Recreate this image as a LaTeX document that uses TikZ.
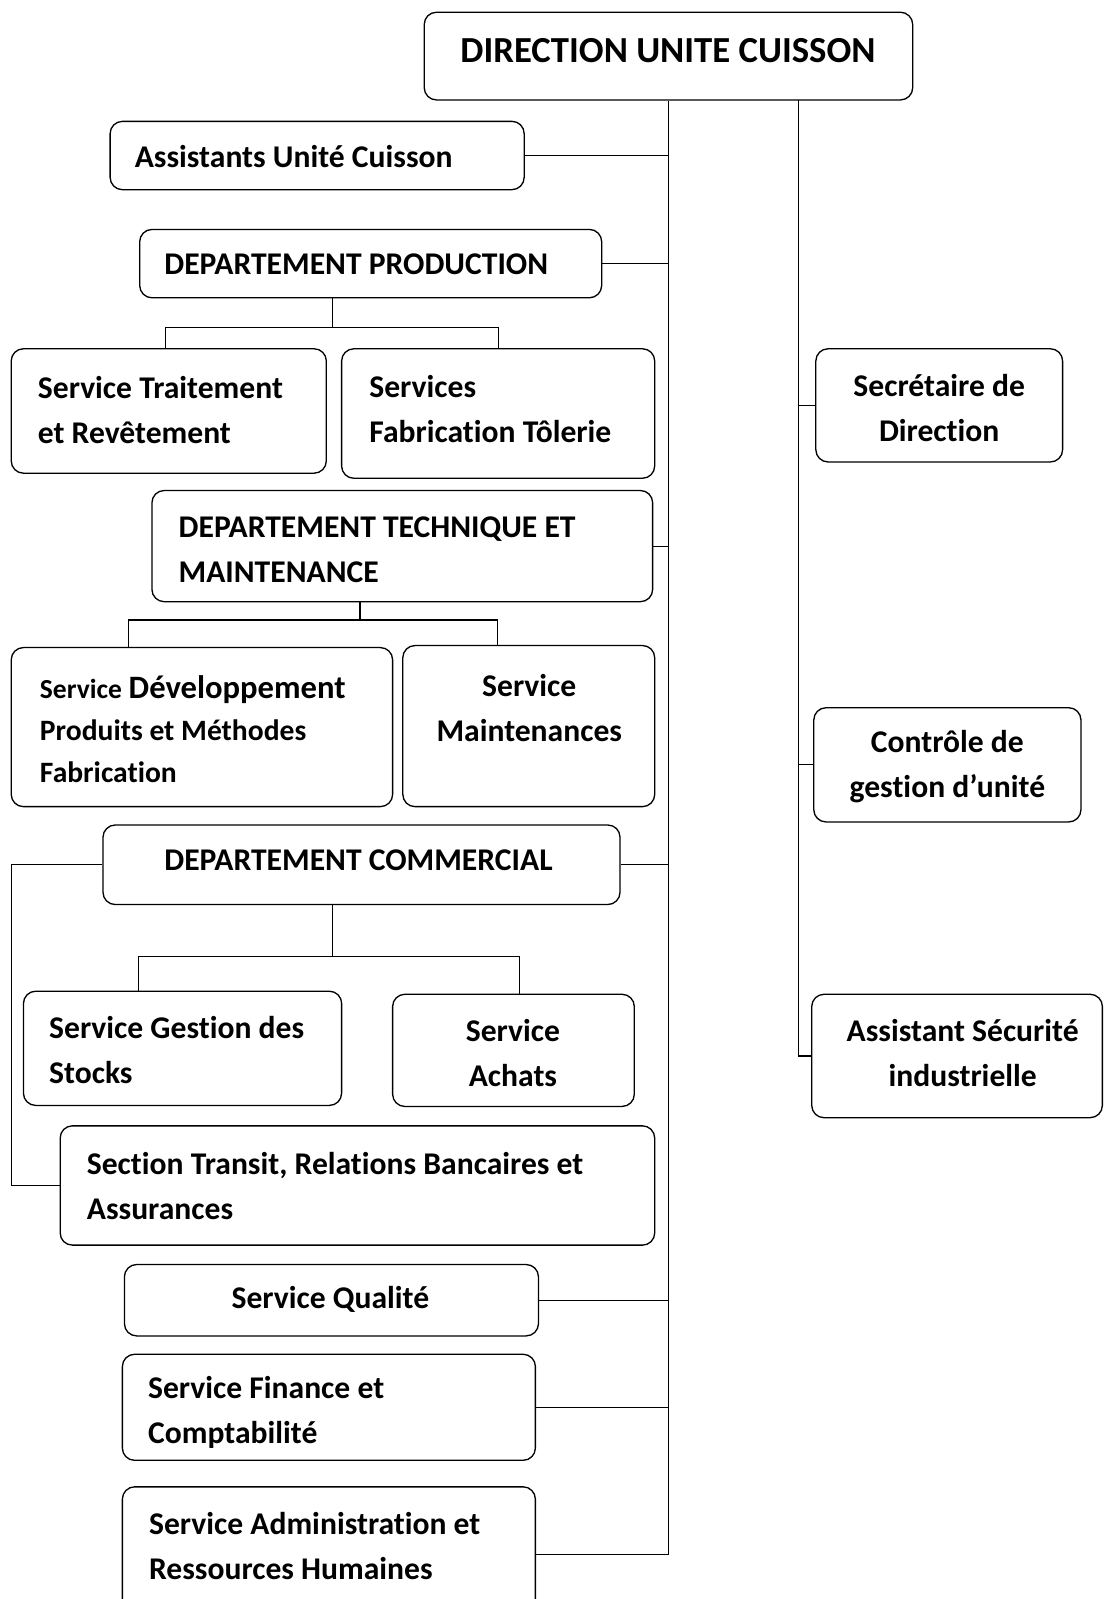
\documentclass[tikz,border=0pt]{standalone}
\usepackage{fontspec}
\setmainfont{Carlito}[Ligatures=NoCommon]
\usetikzlibrary{fit}
\begin{document}
\begin{tikzpicture}[x=1pt,y=-1pt,
  box/.style={draw,line width=1.3pt,rounded corners=12pt,inner sep=0pt},
  conn/.style={line width=1.1pt},
  txt/.style={inner sep=0pt,align=left,font=\fontsize{31}{44}\selectfont\bfseries},
  ctxt/.style={inner sep=0pt,align=center,font=\fontsize{31}{44}\selectfont\bfseries}]
\useasboundingbox (0,0) rectangle (1083,1568);
\fill[white] (0,0) rectangle (1083,1568);
% boxes
\node[box,fit={(416,12) (895,98)}] (dir) {};
\node[box,fit={(108,119) (514,186)}] (asst) {};
\node[box,fit={(137,225) (590,292)}] (prod) {};
\node[box,fit={(11,342) (320,464)}] (trait) {};
\node[box,fit={(335,342) (642,469)}] (fab) {};
\node[box,fit={(149,481) (640,590)}] (tech) {};
\node[box,fit={(11,635) (385,791)}] (dev) {};
\node[box,fit={(395,633) (642,791)}] (maint) {};
\node[box,fit={(101,809) (608,887)}] (com) {};
\node[box,fit={(23,972) (335,1084)}] (stock) {};
\node[box,fit={(385,975) (622,1085)}] (achat) {};
\node[box,fit={(59,1104) (642,1221)}] (transit) {};
\node[box,fit={(122,1240) (528,1310)}] (qual) {};
\node[box,fit={(120,1328) (525,1432)}] (fin) {};
\node[box,fit={(120,1458) (525,1590)}] (admin) {};
\node[box,fit={(800,342) (1042,453)}] (secr) {};
\node[box,fit={(798,694) (1060,806)}] (ctrl) {};
\node[box,fit={(796,975) (1081,1096)}] (secu) {};
% texts
\node[ctxt,font=\fontsize{36}{40}\selectfont\bfseries] (tdir) at (655,50) {DIRECTION UNITE CUISSON};
\node[txt,anchor=west] (tasst) at (132,153) {Assistants Unité Cuisson};
\node[txt,anchor=west] (tprod) at (161,259) {DEPARTEMENT PRODUCTION};
\node[txt,anchor=west] (ttrait) at (37,402) {Service Traitement\\et Revêtement};
\node[txt,anchor=west] (tfab) at (362,401) {Services\\Fabrication Tôlerie};
\node[txt,anchor=west] (ttech) at (175,539) {DEPARTEMENT TECHNIQUE ET\\MAINTENANCE};
\node[txt,anchor=west,font=\fontsize{29}{41}\selectfont\bfseries] (tdev) at (39,715) {{\fontsize{27}{41}\selectfont Service} {\fontsize{32}{41}\selectfont Développement}\\Produits et Méthodes\\Fabrication};
\node[ctxt] (tmaint) at (519,694) {Service\\Maintenances};
\node[txt,anchor=west] (tcom) at (161,844) {DEPARTEMENT COMMERCIAL};
\node[txt,anchor=west] (tstock) at (48,1030) {Service Gestion des\\Stocks};
\node[ctxt] (tachat) at (503,1033) {Service\\Achats};
\node[txt,anchor=west] (ttransit) at (85,1163) {Section Transit, Relations Bancaires et\\Assurances};
\node[ctxt] (tqual) at (324,1274) {Service Qualité};
\node[txt,anchor=west] (tfin) at (145,1385) {Service Finance et\\Comptabilité};
\node[txt,anchor=west] (tadmin) at (146,1516) {Service Administration et\\Ressources Humaines};
\node[ctxt] (tsecr) at (921,400) {Secrétaire de\\Direction};
\node[ctxt] (tctrl) at (929,752) {Contrôle de\\gestion d’unité};
\node[ctxt] (tsecu) at (944,1033) {Assistant Sécurité\\industrielle};
% main trunk
\draw[conn] (dir.south) |- (admin.east);
\foreach \n in {asst,prod,tech,com,qual,fin}
  \draw[conn] (\n.east) -- (\n.east -| dir.south);
% second trunk
\coordinate (tr2) at (783,98);
\draw[conn] (tr2) |- (secu.west);
\foreach \n in {secr,ctrl}
  \draw[conn] (\n.west) -- (\n.west -| tr2);
% production children
\coordinate (pj) at (326,321);
\coordinate (pl) at (162,321);
\draw[conn] (prod.south -| pj) -- (pj);
\draw[conn] (pl |- trait.north) -- (pl) -- (fab.north |- pj) -- (fab.north);
% technique children
\coordinate (tj) at (353,608);
\coordinate (tl) at (126,608);
\coordinate (tr) at (488,608);
\draw[conn] (tech.south -| tj) -- (tj);
\draw[conn] (tl |- dev.north) -- (tl) -- (tr) -- (tr |- maint.north);
% commercial children
\coordinate (cj) at (326,938);
\coordinate (cl) at (136,938);
\coordinate (cr) at (509,938);
\draw[conn] (com.south -| cj) -- (cj);
\draw[conn] (cl |- stock.north) -- (cl) -- (cr) -- (cr |- achat.north);
% commercial to transit
\coordinate (cx) at (11,846);
\draw[conn] (com.west) -- (com.west -| cx) |- (transit.west);
\end{tikzpicture}
\end{document}
